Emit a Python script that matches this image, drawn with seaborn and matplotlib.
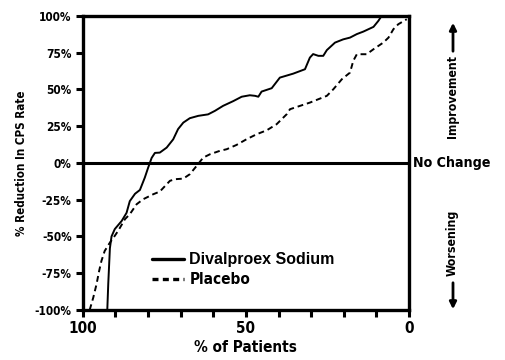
import pandas as pd
import seaborn as sns
import matplotlib.pyplot as plt
from matplotlib.lines import Line2D

# Divalproex sodium curve (% of patients, % reduction in CPS rate)
dival_pct = [92.5, 92.2, 91.7, 91.2, 90.2, 88.1, 86.6, 85.6, 84.0, 82.5, 81.0, 80.0,
             78.9, 77.9, 76.4, 74.3, 72.3, 70.8, 69.2, 67.2, 64.6, 61.6, 59.5, 57.0,
             53.9, 51.3, 48.8, 47.2, 46.2, 45.2, 42.1, 39.6, 35.5, 31.9, 30.4, 29.4,
             27.8, 26.3, 25.2, 22.7, 20.2, 18.1, 16.0, 14.0, 10.9, 9.4, 8.4]
dival_red = [-100, -82, -58, -50, -45, -39.5, -34, -26, -21, -18.4, -10, -3.4,
             3.4, 6.8, 7.0, 10.4, 16, 23, 27.4, 30.4, 32, 33, 35.4, 38.8,
             42, 45, 46, 45.6, 45, 48.5, 50.8, 58, 60.7, 63.7, 71.6, 74,
             72.8, 72.8, 76.7, 81.8, 84, 85.2, 87.6, 89.3, 92.5, 96.6, 100]

# Placebo curve
plac_pct = [97.9, 96.8, 95.8, 95.0, 94.3, 93.3, 91.7, 90.7, 89.2, 87.1, 85.6, 83.5,
            81.5, 78.4, 76.4, 73.3, 71.8, 69.2, 67.2, 65.1, 63.1, 61.0, 58.0, 55.9,
            52.9, 49.8, 46.7, 43.6, 40.6, 37.5, 36.5, 33.4, 30.4, 27.8, 25.2, 23.2,
            20.6, 18.1, 17.1, 16.0, 13.0, 10.9, 7.9, 6.3, 4.8, 3.3, 0.7]
plac_red = [-100, -91.6, -82.5, -73.5, -66.7, -59.9, -54.2, -51.2, -46.3, -38.3, -34.9, -28.1,
            -24.7, -21.3, -19.5, -12.2, -11.1, -10.7, -7.7, -2, 3.6, 5.9, 8.2, 9.3,
            12.2, 16.1, 19.5, 22.2, 26.3, 33.1, 36.5, 38.8, 41, 43.3, 45.6, 50.1,
            56.9, 61.4, 69.4, 73.9, 73.9, 77.3, 81.8, 85.2, 90.9, 94.3, 97.7]

x_ticks = [0, 10, 20, 30, 40, 50, 60, 70, 80, 90, 100]
x_ticklabels = ["0", "", "", "", "", "50", "", "", "", "", "100"]
y_ticks = [-100, -75, -50, -25, 0, 25, 50, 75, 100]
y_ticklabels = ["-100%", "-75%", "-50%", "-25%", "0%", "25%", "50%", "75%", "100%"]

df = pd.concat([
    pd.DataFrame({"pct": dival_pct, "red": dival_red, "grp": "Divalproex Sodium"}),
    pd.DataFrame({"pct": plac_pct, "red": plac_red, "grp": "Placebo"}),
])

sns.set_style("white")
plt.rcParams["font.family"] = ["DejaVu Sans"]
plt.rcParams["font.stretch"] = "condensed"
plt.rcParams["font.weight"] = "bold"
for k in ["text.color", "axes.labelcolor", "xtick.color", "ytick.color"]:
    plt.rcParams[k] = "black"

fig = plt.figure(figsize=(5.05, 3.6), dpi=100)
ax = fig.add_axes([0.164, 0.139, 0.646, 0.817])

sns.lineplot(data=df, x="pct", y="red", hue="grp", style="grp",
             palette={"Divalproex Sodium": "black", "Placebo": "black"},
             dashes={"Divalproex Sodium": "", "Placebo": (3, 2)},
             estimator=None, sort=False, linewidth=1.4, legend=False, ax=ax)

ax.axhline(0, color="black", linewidth=2.2)
ax.set_xlim(100, 0)
ax.set_ylim(-100, 100)
ax.set_xticks(x_ticks)
ax.set_xticklabels(x_ticklabels, fontsize=11)
ax.set_yticks(y_ticks)
ax.set_yticklabels(y_ticklabels, fontsize=8.5)
ax.tick_params(axis="both", direction="out", length=5, width=2.2, color="black",
               bottom=True, left=True, pad=3)
for s in ax.spines.values():
    s.set_linewidth(2.4)
    s.set_color("black")

ax.set_xlabel("% of Patients", fontsize=11, fontweight="bold", labelpad=3)
ax.set_ylabel("% Reduction In CPS Rate", fontsize=8.3, fontweight="bold", labelpad=5)

# legend
handles = [Line2D([], [], color="black", lw=2.4),
           Line2D([], [], color="black", lw=2.4, dashes=(1.8, 1.3))]
leg = ax.legend(handles, ["Divalproex Sodium", "Placebo"], loc="lower left",
                bbox_to_anchor=(0.17, 0.03), frameon=False, handlelength=2.1,
                handletextpad=0.35, labelspacing=0.35, fontsize=11)
leg.get_texts()[0].set_fontfamily("Liberation Sans")
leg.get_texts()[0].set_fontsize(11.5)

# right-hand annotations
fig.text(413 / 505, 1 - 163 / 360, "No Change", fontsize=10.2, fontweight="bold",
         ha="left", va="center")
fig.text(452 / 505, 1 - 96 / 360, "Improvement", fontsize=8.8, fontweight="bold",
         rotation=90, ha="center", va="center")
fig.text(452 / 505, 1 - 243 / 360, "Worsening", fontsize=8.8, fontweight="bold",
         rotation=90, ha="center", va="center")
ax.annotate("", xy=(453 / 505, 1 - 20 / 360), xytext=(453 / 505, 1 - 54 / 360),
            xycoords="figure fraction", textcoords="figure fraction",
            arrowprops=dict(arrowstyle="-|>", color="black", lw=2, mutation_scale=10))
ax.annotate("", xy=(453 / 505, 1 - 312 / 360), xytext=(453 / 505, 1 - 280 / 360),
            xycoords="figure fraction", textcoords="figure fraction",
            arrowprops=dict(arrowstyle="-|>", color="black", lw=2, mutation_scale=10))

fig.savefig("out.png", dpi=100)
